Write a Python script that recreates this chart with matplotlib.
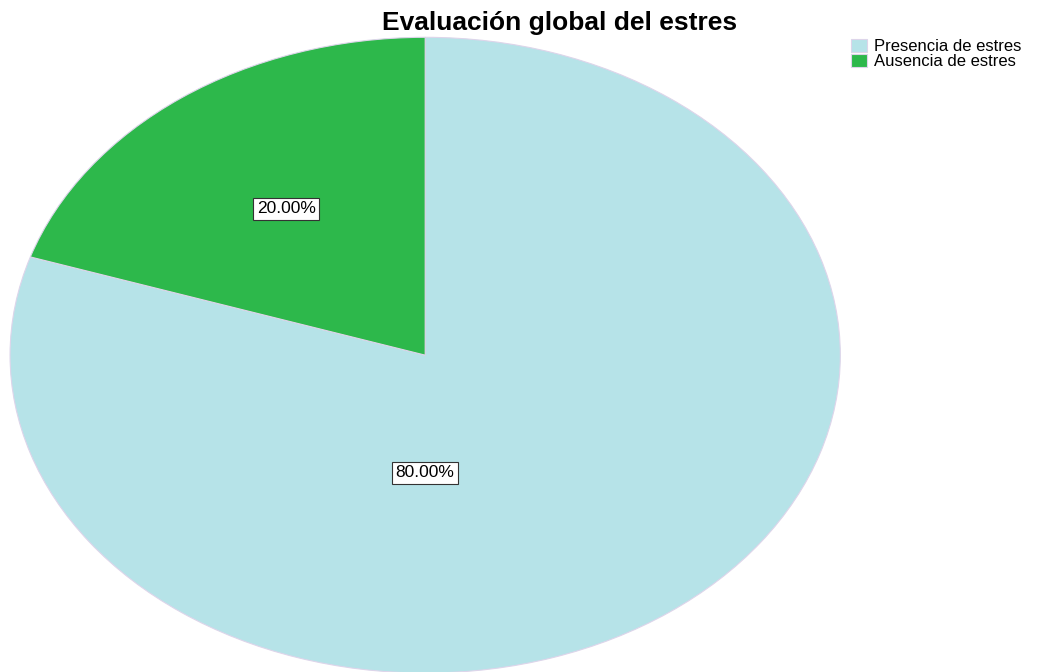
import numpy as np
import matplotlib.pyplot as plt

plt.rcParams["font.family"] = ["Liberation Sans", "DejaVu Sans"]

categories = ["Presencia de estres", "Ausencia de estres"]
values = [80.0, 20.0]
colors = ["#b6e3e8", "#2db84b"]

fig = plt.figure(figsize=(10.47, 6.72), dpi=100)
ax = fig.add_axes([0.0096, -0.0015, 0.793, 0.946])

wedges, _ = ax.pie(values, colors=colors, startangle=90, counterclock=False,
                   wedgeprops=dict(edgecolor="#ddd5ea", linewidth=0.8))
ax.set_aspect("auto")
ax.set_xlim(-1, 1)
ax.set_ylim(-1, 1)

# percentage labels in white boxes
box = dict(boxstyle="square,pad=0.2", facecolor="white", edgecolor="#333333", linewidth=0.8)
w = wedges[1]
mid = np.deg2rad((w.theta1 + w.theta2) / 2)
ax.text(0.57 * np.cos(mid), 0.57 * np.sin(mid), f"{values[1]:.2f}%",
        ha="center", va="center", fontsize=12.5, bbox=box)
ax.text(0, -0.37, f"{values[0]:.2f}%", ha="center", va="center", fontsize=12.5, bbox=box)

fig.text(0.534, 0.966, "Evaluación global del estres", ha="center", va="center",
         fontsize=19, fontweight="bold")

fig.legend(wedges, categories, loc="upper left", bbox_to_anchor=(0.806, 0.952),
           frameon=False, fontsize=12, handlelength=1.0, handleheight=0.8,
           handletextpad=0.4, labelspacing=0.0, borderaxespad=0)

fig.savefig("out.png", dpi=100)
